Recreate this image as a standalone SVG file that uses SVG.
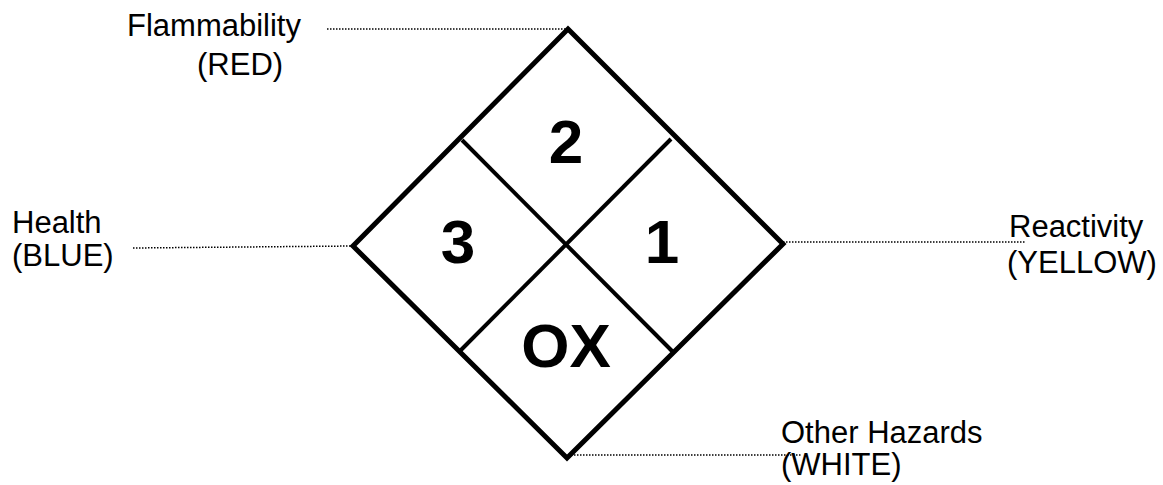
<svg xmlns="http://www.w3.org/2000/svg" width="1163" height="485" viewBox="0 0 1163 485">
<style>
.lbl{font-family:"Liberation Sans",Arial,sans-serif;font-size:31px;fill:#000}
.num{font-family:"Liberation Sans",Arial,sans-serif;font-size:62px;font-weight:bold;fill:#000;text-anchor:middle}
.dot{stroke:#000;stroke-width:1.5;stroke-dasharray:1.5 1.5;fill:none}
</style>
<rect width="1163" height="485" fill="#fff"/>
<g id="connectors">
<line class="dot" x1="327" y1="29" x2="568" y2="29"/>
<line class="dot" x1="133" y1="248" x2="353" y2="246"/>
<line class="dot" x1="783" y1="242" x2="1025" y2="242"/>
<line class="dot" x1="568" y1="455" x2="802" y2="455"/>
</g>
<g id="diamond">
<polygon points="568,29 783,244 567,458 353,246" fill="#fff" stroke="#000" stroke-width="5" stroke-linejoin="miter"/>
<line x1="462" y1="140" x2="673" y2="352" stroke="#000" stroke-width="4"/>
<line x1="671" y1="139" x2="460" y2="351" stroke="#000" stroke-width="4"/>
</g>
<g id="flammability-cell"><text class="num" x="566" y="163">2</text></g>
<g id="health-cell"><text class="num" x="458" y="263">3</text></g>
<g id="reactivity-cell"><text class="num" x="662" y="263">1</text></g>
<g id="other-cell"><text class="num" x="566" y="367">OX</text></g>
<g id="label-flammability"><text class="lbl" x="127" y="36">Flammability</text><text class="lbl" x="197" y="75">(RED)</text></g>
<g id="label-health"><text class="lbl" x="12" y="233">Health</text><text class="lbl" x="12" y="266">(BLUE)</text></g>
<g id="label-reactivity"><text class="lbl" x="1009" y="237">Reactivity</text><text class="lbl" x="1007" y="273">(YELLOW)</text></g>
<g id="label-other"><text class="lbl" x="781" y="443">Other Hazards</text><text class="lbl" x="781" y="475">(WHITE)</text></g>
</svg>
